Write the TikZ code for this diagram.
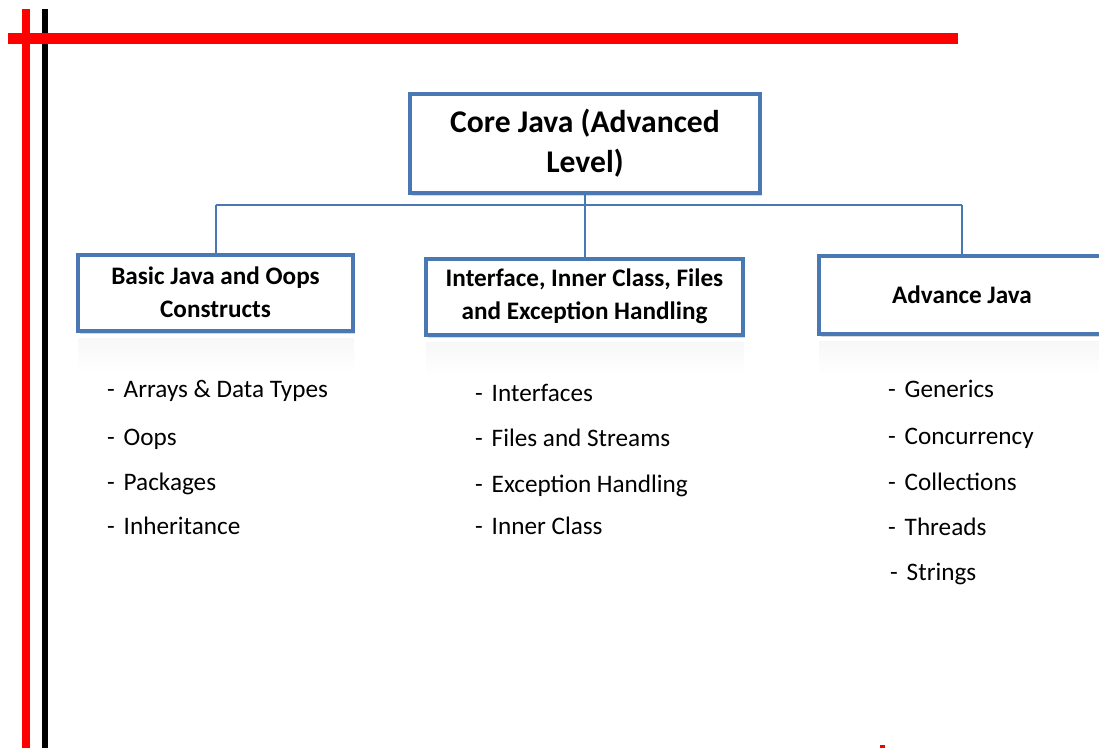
\documentclass[tikz,border=0pt]{standalone}
\usepackage{fontspec}
\setmainfont{Carlito}
\usetikzlibrary{shadows}
\definecolor{boxblue}{HTML}{4A78B2}
\definecolor{linkblue}{HTML}{4A78B2}
\definecolor{rulered}{HTML}{FF0000}
\begin{document}
\begin{tikzpicture}[x=1pt,y=-1pt,
  topicbox/.style={draw=boxblue, line width=4pt, fill=white, align=center,
    inner sep=0pt, font=\bfseries,
    drop shadow={shadow xshift=1.5pt, shadow yshift=-3pt, opacity=0.25, fill=black!60}},
  link/.style={draw=linkblue, line width=2pt},
  item/.style={anchor=base west, inner sep=0pt, font=\fontsize{25.2}{28}\selectfont},
  glow/.style={top color=black!3, bottom color=white, draw=none}]
  \useasboundingbox (0,0) rectangle (1099,748);
  \fill[white] (0,0) rectangle (1099,748);

  % margin rules
  \fill[rulered] (22,9) rectangle (30,748);
  \fill[black] (42,9) rectangle (47.5,748);
  \fill[rulered] (8,33) rectangle (958,44);
  \fill[rulered] (880,745) rectangle (885,748);

  % faint reflections under the branch boxes
  \shade[glow] (78,338) rectangle (354,372);
  \shade[glow] (426,342) rectangle (744,376);
  \shade[glow] (819,341) rectangle (1099,375);

  % boxes
  \node[topicbox, minimum width=350, minimum height=99,
        font=\bfseries\fontsize{31.6}{40}\selectfont] (core) at (585,143.5)
        {Core Java (Advanced\\Level)};
  \node[topicbox, minimum width=275, minimum height=76,
        font=\bfseries\fontsize{25.2}{33}\selectfont] (basic) at (215.5,292.5)
        {Basic Java and Oops\\Constructs};
  \node[topicbox, minimum width=317, minimum height=76,
        font=\bfseries\fontsize{25.2}{33}\selectfont] (iface) at (584.5,296.5)
        {Interface, Inner Class, Files\\and Exception Handling};
  \node[topicbox, minimum width=286, minimum height=78,
        font=\bfseries\fontsize{25.2}{33}\selectfont] (adv) at (962,295)
        {Advance Java};

  % connectors
  \coordinate (bus) at (583,205);
  \draw[link] (core.south) -- (core.south |- bus);
  \draw[link] (basic.north |- bus) -- (adv.north |- bus);
  \draw[link] (basic.north |- bus) -- (basic.north);
  \draw[link] (iface.north |- bus) -- (iface.north);
  \draw[link] (adv.north |- bus) -- (adv.north);

  % topic lists
  \node[item] (b1) at (107,397) {-\hspace{0.35em}Arrays \& Data Types};
  \node[item] (b2) at (107,445) {-\hspace{0.35em}Oops};
  \node[item] (b3) at (107,490) {-\hspace{0.35em}Packages};
  \node[item] (b4) at (107,534) {-\hspace{0.35em}Inheritance};

  \node[item] (i1) at (475,401) {-\hspace{0.35em}Interfaces};
  \node[item] (i2) at (475,446) {-\hspace{0.35em}Files and Streams};
  \node[item] (i3) at (475,492) {-\hspace{0.35em}Exception Handling};
  \node[item] (i4) at (475,534) {-\hspace{0.35em}Inner Class};

  \node[item] (a1) at (888,397) {-\hspace{0.35em}Generics};
  \node[item] (a2) at (888,444) {-\hspace{0.35em}Concurrency};
  \node[item] (a3) at (888,490) {-\hspace{0.35em}Collections};
  \node[item] (a4) at (888,535) {-\hspace{0.35em}Threads};
  \node[item] (a5) at (890,580) {-\hspace{0.35em}Strings};
\end{tikzpicture}
\end{document}
